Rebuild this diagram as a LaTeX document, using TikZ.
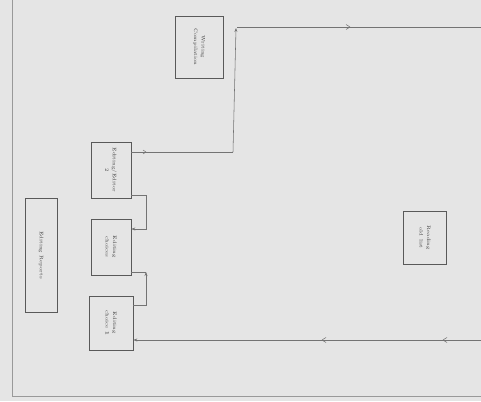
\documentclass[tikz,border=0pt]{standalone}
\usetikzlibrary{arrows.meta}
\begin{document}
\begin{tikzpicture}[x=1pt,y=-1pt,
  box/.style={draw=black!65, line width=0.7pt, inner sep=0pt, align=center, font=\tiny, text=black!75},
  conn/.style={draw=black!55, line width=0.55pt},
  tip/.style={-{Stealth[length=4pt,width=3pt]}}]
\fill[black!10] (0,0) rectangle (481,401);
\useasboundingbox (0,0) rectangle (481,401);
% page edge
\draw[black!40, line width=0.6pt] (12,0) -- (12,396) -- (481,396);
% boxes
\node[box, minimum width=48pt, minimum height=62pt] (wc) at (199,47) {\rotatebox{-90}{\shortstack{Writing\\Compilation}}};
\node[box, minimum width=40pt, minimum height=56pt] (e2) at (111,170) {\rotatebox{-90}{\shortstack{Editing/Editor\\2}}};
\node[box, minimum width=40pt, minimum height=56pt] (ec) at (111,247) {\rotatebox{-90}{\shortstack{Editing\\choices}}};
\node[box, minimum width=44pt, minimum height=54pt] (e1) at (111,323) {\rotatebox{-90}{\shortstack{Editing\\choice \textbf{1}}}};
\node[box, minimum width=32pt, minimum height=114pt] (er) at (41,255) {\rotatebox{-90}{Editing Reports}};
\node[box, minimum width=43pt, minimum height=53pt] (ro) at (425,238) {\rotatebox{-90}{\shortstack{Reading\\old list}}};
% coordinates
\coordinate (c1) at (233,152);
\coordinate (c3) at (481,27);
\coordinate (c4) at (481,340);
\coordinate (m1) at (146,195);
\coordinate (m2) at (146,272);
% connectors
\draw[conn] (c1) -- (e2.east |- c1);
\draw[conn] (146,152) -- ++(-3,-2) (146,152) -- ++(-3,2);
\draw[conn, tip] (c1) -- (236,28);
\draw[conn] (237,27) -- (c3);
\draw[conn] (350,27) -- ++(-4,-2.5) (350,27) -- ++(-4,2.5);
\draw[conn] (e2.east |- m1) -- (m1);
\draw[conn, tip] (m1) |- (ec.east |- 0,229);
\draw[conn, tip] (e1.east |- 0,305) -| (m2);
\draw[conn] (m2) -- (ec.east |- m2);
\draw[conn, tip] (c4) -- (e1.east |- c4);
\draw[conn] (322,340) -- ++(4,-2.5) (322,340) -- ++(4,2.5);
\draw[conn] (443,340) -- ++(4,-2.5) (443,340) -- ++(4,2.5);
\end{tikzpicture}
\end{document}
